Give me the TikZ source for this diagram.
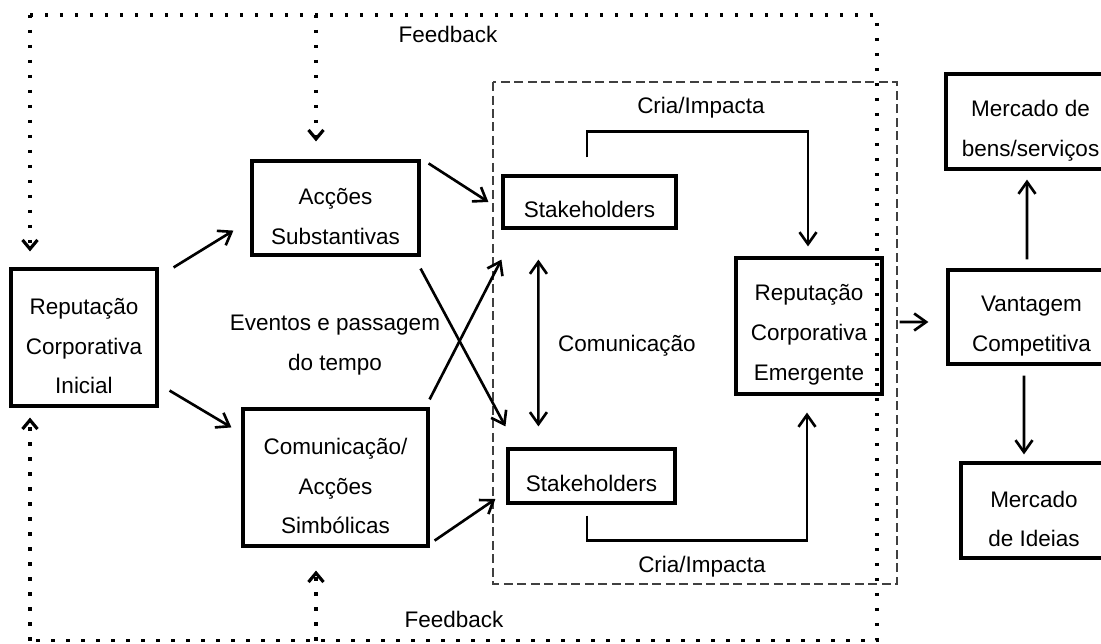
\documentclass[tikz,border=0pt]{standalone}
\usepackage{fontspec}
\setmainfont{Liberation Sans}
\usetikzlibrary{arrows.meta}

\begin{document}
\begin{tikzpicture}[
  box/.style={draw, line width=1.8pt, align=center, inner sep=0pt},
  sink/.style={execute at begin node={\rule{0pt}{#1}}},
  arr/.style={line width=1.5pt, -{Straight Barb[length=2.4mm,width=3.4mm]}},
  darr/.style={line width=1.5pt, {Straight Barb[length=2.4mm,width=3.4mm]}-{Straight Barb[length=2.4mm,width=3.4mm]}},
  fb/.style={line width=1.8pt, dash pattern=on 0.064cm off 0.236cm},
  fbarr/.style={fb, -{Straight Barb[length=1.8mm,width=3mm]}},
  zone/.style={draw=black!75, line width=0.6pt, dash pattern=on 0.18cm off 0.09cm},
  lbl/.style={align=center, inner sep=0pt},
  font=\fontsize{12.8}{22.7}\selectfont
]
\useasboundingbox (0,0) rectangle (22.02,12.86);
\clip (0,0) rectangle (22.02,12.86);

\node[box, sink=2.26cm, minimum width=2.92cm, minimum height=2.74cm] (rci) at (1.68,6.11) {Reputação\\Corporativa\\Inicial};
\node[box, sink=1.46cm, minimum width=3.34cm, minimum height=1.88cm] (acsub) at (6.71,8.70) {Acções\\Substantivas};
\node[box, sink=2.26cm, minimum width=3.70cm, minimum height=2.74cm] (acsim) at (6.71,3.31) {Comunicação/\\Acções\\Simbólicas};
\node[box, sink=0.64cm, minimum width=3.46cm, minimum height=1.04cm] (stktop) at (11.79,8.82) {Stakeholders};
\node[box, sink=0.64cm, minimum width=3.34cm, minimum height=1.08cm] (stkbot) at (11.83,3.34) {Stakeholders};
\node[box, sink=2.26cm, minimum width=2.92cm, minimum height=2.72cm] (rce) at (16.18,6.34) {Reputação\\Corporativa\\Emergente};
\node[box, sink=1.48cm, minimum width=3.38cm, minimum height=1.90cm] (mbens) at (20.61,10.43) {Mercado de\\bens/serviços};
\node[box, sink=1.48cm, minimum width=3.34cm, minimum height=1.88cm] (vant) at (20.63,6.52) {Vantagem\\Competitiva};
\node[box, sink=1.46cm, minimum width=2.92cm, minimum height=1.90cm] (mideias) at (20.68,2.65) {Mercado\\de Ideias};

\node[lbl] (fbtop) at (8.96,12.18) {Feedback};
\node[lbl] (fbbot) at (9.08,0.48) {Feedback};
\node[lbl] (criatop) at (14.02,10.70) {Cria/Impacta};
\node[lbl] (criabot) at (14.04,1.52) {Cria/Impacta};
\node[lbl] (com) at (12.54,5.94) {Comunicação};
\node[lbl] (evt) at (6.70,5.96) {Eventos e passagem\\do tempo};

\draw[zone] (9.86,11.22) rectangle (17.94,1.18);

\coordinate (fbtl) at (0.60,12.56);
\coordinate (fbtm) at (6.32,12.56);
\coordinate (fbtr) at (17.54,12.56);
\coordinate (fbbr) at (17.54,0.05);
\coordinate (fbbm) at (6.32,0.05);
\coordinate (fbbl) at (0.60,0.05);

\draw[fb] (fbtl) -- (fbtr) -- (fbbr) -- (fbbl);
\draw[fbarr, shorten >=0.32cm] (fbtl) -- (fbtl |- rci.north);
\draw[fbarr, shorten >=0.36cm] (fbtm) -- (fbtm |- acsub.north);
\draw[fbarr, shorten >=0.2cm] (fbbl) -- (fbbl |- rci.south);
\draw[fbarr, shorten >=0.46cm] (fbbm) -- (fbbm |- acsim.south);

\draw[arr] ([xshift=0.3cm]rci.north east) -- ([xshift=-0.34cm,yshift=0.52cm]acsub.south west);
\draw[arr] ([xshift=0.22cm,yshift=0.34cm]rci.south east) -- ([xshift=-0.2cm,yshift=-0.4cm]acsim.north west);
\draw[arr] ([xshift=0.16cm,yshift=-0.08cm]acsub.north east) -- ([xshift=-0.26cm]stktop.west);
\draw[arr] ([xshift=0.1cm,yshift=0.14cm]acsim.south east) -- ([xshift=-0.22cm,yshift=-0.46cm]stkbot.west);
\draw[arr] ([yshift=-0.24cm]acsub.south east) -- ([xshift=-0.02cm,yshift=0.42cm]stkbot.north west);
\draw[arr] ([yshift=0.16cm]acsim.north east) -- ([yshift=-0.6cm]stktop.south west);
\draw[darr] ([xshift=0.74cm,yshift=-0.6cm]stktop.south west) -- ([xshift=0.64cm,yshift=0.42cm]stkbot.north west);
\draw[arr] ([xshift=-0.05cm,yshift=0.34cm]stktop.north) -- ++(0,0.52) -| ([xshift=-0.02cm,yshift=0.2cm]rce.north);
\draw[arr] ([xshift=-0.09cm,yshift=-0.22cm]stkbot.south) -- ++(0,-0.5) -| ([xshift=-0.04cm,yshift=-0.34cm]rce.south);
\draw[arr] ([xshift=0.32cm,yshift=0.08cm]rce.east) -- ([xshift=-0.36cm,yshift=-0.1cm]vant.west);
\draw[arr] ([xshift=-0.09cm,yshift=0.18cm]vant.north) -- ([xshift=-0.07cm,yshift=-0.18cm]mbens.south);
\draw[arr] ([xshift=-0.15cm,yshift=-0.2cm]vant.south) -- ([xshift=-0.2cm,yshift=0.14cm]mideias.north);
\end{tikzpicture}
\end{document}
